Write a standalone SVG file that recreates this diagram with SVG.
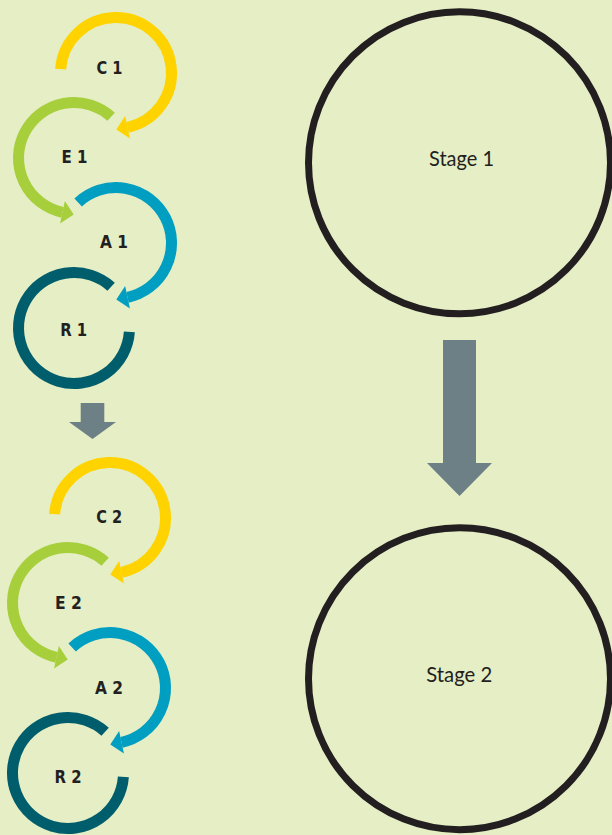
<svg xmlns="http://www.w3.org/2000/svg" width="612" height="835" viewBox="0 0 612 835">
  <style>
    .arc { fill: none; stroke-width: 11; stroke-linecap: butt; }
    .y { stroke: #ffd300; } .yf { fill: #ffd300; }
    .g { stroke: #a6cf3b; } .gf { fill: #a6cf3b; }
    .b { stroke: #009fc1; } .bf { fill: #009fc1; }
    .t { stroke: #005e6c; }
    .lbl { font-family: "DejaVu Sans", "Liberation Sans", sans-serif; font-weight: bold; font-size: 17.5px; fill: #231f20; text-anchor: middle; }
    .stage { fill: none; stroke: #231f20; stroke-width: 7; }
    .stxt { font-family: Lato, "Liberation Sans", sans-serif; font-size: 20.5px; fill: #231f20; text-anchor: middle; }
    .arrow { fill: #6d8086; }
  </style>
  <defs>
    <g id="cArc">
      <path class="arc y" d="M60.64,69.13 A55.5,55.5 0 1 1 127.54,127.29"/>
      <polygon class="yf" points="125.15,116.04 129.93,138.54 116.3,129.5"/>
    </g>
    <g id="eArc">
      <path class="arc g" d="M111.14,116.76 A55.5,55.5 0 1 0 62.46,212.29"/>
      <polygon class="gf" points="64.85,201.04 60.07,223.54 73.7,214.5"/>
    </g>
    <g id="aArc">
      <path class="arc b" d="M78.15,202.41 A55.5,55.5 0 1 1 127.54,297.29"/>
      <polygon class="bf" points="125.15,286.04 129.93,308.54 116.3,299.5"/>
    </g>
    <g id="rArc">
      <path class="arc t" d="M111.14,286.76 A55.5,55.5 0 1 0 129.36,331.87"/>
    </g>
  </defs>
  <rect x="0" y="0" width="612" height="835" fill="#e5eec5"/>

  <g id="c1"><use href="#cArc"/><text class="lbl" x="109.5" y="74" textLength="26" lengthAdjust="spacingAndGlyphs">C 1</text></g>
  <g id="e1"><use href="#eArc"/><text class="lbl" x="74.5" y="163" textLength="26" lengthAdjust="spacingAndGlyphs">E 1</text></g>
  <g id="a1"><use href="#aArc"/><text class="lbl" x="114" y="248" textLength="28" lengthAdjust="spacingAndGlyphs">A 1</text></g>
  <g id="r1"><use href="#rArc"/><text class="lbl" x="73.7" y="336" textLength="27" lengthAdjust="spacingAndGlyphs">R 1</text></g>

  <g id="c2"><use href="#cArc" transform="translate(-6,445)"/><text class="lbl" x="109.2" y="522.5" textLength="26" lengthAdjust="spacingAndGlyphs">C 2</text></g>
  <g id="e2"><use href="#eArc" transform="translate(-6,445)"/><text class="lbl" x="68.5" y="609" textLength="27" lengthAdjust="spacingAndGlyphs">E 2</text></g>
  <g id="a2"><use href="#aArc" transform="translate(-6,445)"/><text class="lbl" x="109" y="694.3" textLength="28" lengthAdjust="spacingAndGlyphs">A 2</text></g>
  <g id="r2"><use href="#rArc" transform="translate(-6,445)"/><text class="lbl" x="68" y="782.7" textLength="27" lengthAdjust="spacingAndGlyphs">R 2</text></g>

  <g id="stage1"><circle class="stage" cx="459.5" cy="162.8" r="151"/><text class="stxt" x="461.5" y="166" textLength="65" lengthAdjust="spacingAndGlyphs">Stage 1</text></g>
  <g id="stage2"><circle class="stage" cx="459.5" cy="678.7" r="151"/><text class="stxt" x="459.3" y="681.7" textLength="66" lengthAdjust="spacingAndGlyphs">Stage 2</text></g>

  <g id="connectors">
    <polygon class="arrow" points="80.7,403 104.3,403 104.3,422 116,422 92.5,439 69,422 80.7,422"/>
    <polygon class="arrow" points="443,340 476,340 476,463 492,463 459.5,496 427,463 443,463"/>
  </g>
</svg>
